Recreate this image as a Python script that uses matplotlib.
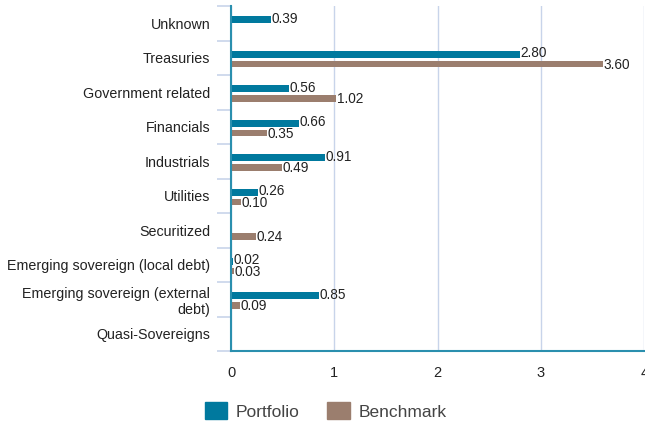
import numpy as np
import matplotlib.pyplot as plt
from matplotlib.patches import Patch

categories = ["Unknown", "Treasuries", "Government related", "Financials",
              "Industrials", "Utilities", "Securitized",
              "Emerging sovereign (local debt)",
              "Emerging sovereign (external\ndebt)", "Quasi-Sovereigns"]
portfolio = [0.39, 2.80, 0.56, 0.66, 0.91, 0.26, None, 0.02, 0.85, None]
benchmark = [None, 3.60, 1.02, 0.35, 0.49, 0.10, 0.24, 0.03, 0.09, None]

c_port = "#00799e"
c_bench = "#9b7e6e"
grid_c = "#c8d4ea"
axis_c = "#2a8fae"

plt.rcParams['font.family'] = ['Liberation Sans', 'DejaVu Sans']

fig = plt.figure(figsize=(6.45, 4.26), dpi=100)
ax = fig.add_axes([231/645, 1-351/426, 1-231/645-0.001, (351-6)/426])

y = np.arange(len(categories))
h = 0.2
for i, (p, b) in enumerate(zip(portfolio, benchmark)):
    if p is not None:
        ax.barh(i - 0.1, p, height=h, color=c_port, zorder=3)
        ax.text(p + 0.005, i - 0.13, f"{p:.2f}", va="center", ha="left",
                fontsize=9.8, color="#222222", zorder=4)
    if b is not None:
        ax.barh(i + 0.18, b, height=h, color=c_bench, zorder=3)
        ax.text(b + 0.005, i + 0.2, f"{b:.2f}", va="center", ha="left",
                fontsize=9.8, color="#222222", zorder=4)

ax.set_ylim(len(categories) - 0.5, -0.5)
ax.set_xlim(0, 4)
ax.set_yticks(y)
ax.set_yticklabels(categories, fontsize=10.3, color="#222222")
ax.set_yticks(np.arange(-0.5, len(categories)), minor=True)
ax.tick_params(axis="y", which="major", length=0, pad=15)
ax.tick_params(axis="y", which="minor", length=10, color=grid_c, width=1.2)
ax.set_xticks([0, 1, 2, 3, 4])
ax.set_xticklabels(["0", "1", "2", "3", "4"], fontsize=10.5, color="#222222")
ax.tick_params(axis="x", length=0, pad=11)

ax.grid(axis="x", color=grid_c, linewidth=1, zorder=0)
for s in ["top", "right"]:
    ax.spines[s].set_visible(False)
for s in ["left", "bottom"]:
    ax.spines[s].set_color(axis_c)
    ax.spines[s].set_linewidth(1.5)
    ax.spines[s].set_zorder(5)

handles = [Patch(color=c_port, label="Portfolio"),
           Patch(color=c_bench, label="Benchmark")]
fig.legend(handles=handles, loc="center", bbox_to_anchor=(0.505, 1-411/426),
           ncol=2, frameon=False, fontsize=12.5, handlelength=1.3,
           handleheight=1.1, columnspacing=1.6, handletextpad=0.5,
           labelcolor="#444444")

fig.savefig("out.png", dpi=100)
